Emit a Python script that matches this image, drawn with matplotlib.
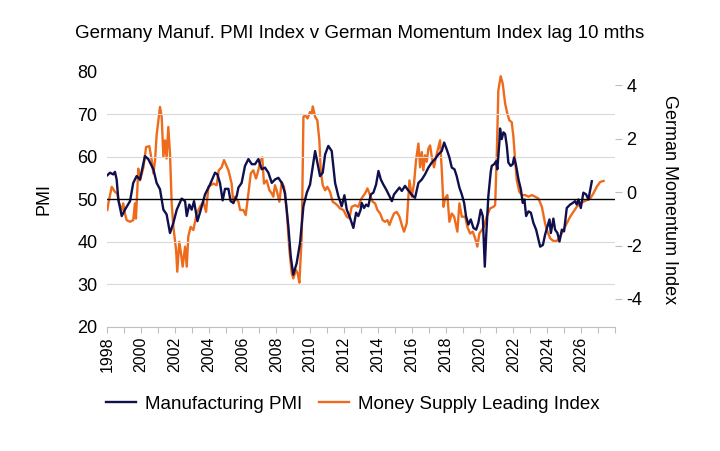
import matplotlib
matplotlib.use('Agg')
import matplotlib.pyplot as plt
import numpy as np

plt.rcParams['font.family'] = ['Liberation Sans', 'DejaVu Sans']
plt.rcParams['axes.unicode_minus'] = False

# Manufacturing PMI (left axis)
pmi_year = [1998.02, 1998.18, 1998.37, 1998.47, 1998.57, 1998.67, 1998.87, 1999.06, 1999.36, 1999.55,
            1999.75, 1999.95, 2000.24, 2000.44, 2000.74, 2000.93, 2001.13, 2001.33, 2001.52, 2001.72,
            2001.92, 2002.12, 2002.41, 2002.61, 2002.71, 2002.86, 2003.00, 2003.14, 2003.34, 2003.49,
            2003.79, 2004.08, 2004.38, 2004.52, 2004.67, 2004.83, 2004.97, 2005.17, 2005.30, 2005.46,
            2005.66, 2005.76, 2005.95, 2006.15, 2006.35, 2006.55, 2006.74, 2006.94, 2007.14, 2007.33,
            2007.53, 2007.73, 2007.92, 2008.12, 2008.32, 2008.51, 2008.71, 2008.85, 2009.00, 2009.20,
            2009.40, 2009.60, 2009.80, 2009.99, 2010.29, 2010.42, 2010.58, 2010.74, 2010.88, 2011.07,
            2011.27, 2011.47, 2011.66, 2011.86, 2012.02, 2012.16, 2012.35, 2012.55, 2012.71, 2012.84,
            2012.98, 2013.04, 2013.18, 2013.30, 2013.43, 2013.58, 2013.73, 2013.89, 2014.03, 2014.17,
            2014.32, 2014.48, 2014.68, 2014.82, 2014.95, 2015.11, 2015.27, 2015.41, 2015.60, 2015.74,
            2015.90, 2016.06, 2016.19, 2016.39, 2016.59, 2016.78, 2016.98, 2017.18, 2017.37, 2017.57,
            2017.77, 2017.91, 2018.06, 2018.22, 2018.36, 2018.52, 2018.65, 2018.81, 2018.95, 2019.09,
            2019.20, 2019.34, 2019.48, 2019.64, 2019.80, 2019.93, 2020.07, 2020.19, 2020.31, 2020.39,
            2020.52, 2020.66, 2020.72, 2020.86, 2020.98, 2021.05, 2021.17, 2021.21, 2021.31, 2021.41,
            2021.51, 2021.61, 2021.70, 2021.84, 2021.96, 2022.04, 2022.16, 2022.30, 2022.44, 2022.55,
            2022.65, 2022.75, 2022.89, 2023.03, 2023.18, 2023.34, 2023.48, 2023.58, 2023.74, 2023.87,
            2024.01, 2024.13, 2024.21, 2024.36, 2024.46, 2024.60, 2024.72, 2024.86, 2024.99, 2025.15,
            2025.35, 2025.51, 2025.64, 2025.74, 2025.84, 2025.98, 2026.13, 2026.29, 2026.43, 2026.63]
pmi_value = [55.7, 56.3, 55.9, 56.5, 54.7, 50.0, 46.1, 47.6, 49.6, 53.9,
             55.5, 54.7, 60.2, 59.5, 57.1, 53.9, 52.4, 47.6, 46.5, 42.1,
             44.5, 47.6, 50.2, 49.6, 46.1, 48.8, 47.6, 49.6, 44.9, 46.9,
             51.2, 53.5, 56.3, 55.9, 53.9, 49.8, 52.5, 52.5, 49.6, 49.2,
             50.8, 52.8, 53.9, 57.9, 59.5, 58.3, 58.3, 59.5, 57.1, 57.5,
             56.3, 53.9, 54.7, 55.1, 53.9, 51.6, 43.7, 36.6, 32.3, 35.0,
             39.8, 48.4, 51.6, 53.5, 61.4, 58.7, 55.5, 56.3, 60.6, 62.6,
             61.4, 53.9, 50.8, 48.4, 51.0, 47.6, 45.7, 43.3, 46.9, 46.1,
             47.6, 49.2, 48.0, 48.8, 48.4, 51.2, 51.6, 53.5, 56.7, 54.7,
             53.5, 52.4, 50.8, 49.6, 51.2, 52.0, 52.8, 52.0, 53.2, 52.4,
             51.6, 50.8, 50.4, 53.9, 54.7, 55.9, 57.5, 58.7, 59.5, 60.6,
             61.4, 63.4, 61.8, 59.9, 57.5, 57.1, 55.5, 52.8, 51.2, 49.2,
             46.1, 44.1, 45.3, 43.3, 42.9, 44.5, 47.6, 46.1, 34.2, 41.3,
             50.8, 56.5, 57.9, 58.3, 59.0, 57.1, 63.4, 66.7, 64.2, 65.8,
             65.4, 62.6, 58.7, 57.9, 58.3, 59.9, 57.9, 54.7, 52.4, 49.2,
             50.0, 46.1, 47.2, 46.9, 44.5, 42.9, 40.5, 38.9, 39.3, 41.7,
             43.7, 45.3, 42.1, 45.5, 42.9, 42.1, 40.1, 42.9, 42.5, 48.0,
             48.8, 49.2, 49.6, 48.8, 50.0, 48.0, 51.6, 51.2, 50.0, 54.3]

# Money supply leading index, lagged 10 months (right axis)
msl_year = [1998.02, 1998.08, 1998.28, 1998.47, 1998.61, 1998.71, 1998.87, 1998.96, 1999.06, 1999.16,
            1999.36, 1999.55, 1999.65, 1999.71, 1999.85, 1999.95, 2000.15, 2000.31, 2000.50, 2000.64,
            2000.74, 2000.84, 2000.93, 2001.13, 2001.23, 2001.33, 2001.43, 2001.52, 2001.62, 2001.72,
            2001.82, 2001.92, 2002.08, 2002.15, 2002.27, 2002.37, 2002.47, 2002.61, 2002.71, 2002.80,
            2002.94, 2003.10, 2003.30, 2003.49, 2003.69, 2003.85, 2003.99, 2004.28, 2004.48, 2004.60,
            2004.77, 2004.91, 2005.17, 2005.36, 2005.46, 2005.56, 2005.76, 2005.86, 2006.05, 2006.19,
            2006.35, 2006.49, 2006.64, 2006.80, 2006.94, 2007.04, 2007.17, 2007.27, 2007.43, 2007.59,
            2007.73, 2007.82, 2007.92, 2008.02, 2008.18, 2008.32, 2008.45, 2008.61, 2008.77, 2008.91,
            2009.00, 2009.16, 2009.26, 2009.36, 2009.50, 2009.60, 2009.70, 2009.84, 2009.99, 2010.09,
            2010.15, 2010.29, 2010.42, 2010.54, 2010.62, 2010.74, 2010.88, 2011.01, 2011.17, 2011.33,
            2011.47, 2011.60, 2011.76, 2011.96, 2012.16, 2012.31, 2012.45, 2012.65, 2012.84, 2012.98,
            2013.10, 2013.24, 2013.38, 2013.53, 2013.69, 2013.83, 2013.97, 2014.13, 2014.28, 2014.42,
            2014.56, 2014.68, 2014.82, 2014.95, 2015.11, 2015.27, 2015.41, 2015.54, 2015.70, 2015.86,
            2016.00, 2016.13, 2016.25, 2016.39, 2016.49, 2016.59, 2016.68, 2016.78, 2016.88, 2016.98,
            2017.08, 2017.18, 2017.31, 2017.43, 2017.57, 2017.67, 2017.77, 2017.87, 2017.96, 2018.10,
            2018.22, 2018.36, 2018.50, 2018.69, 2018.81, 2018.95, 2019.15, 2019.28, 2019.44, 2019.60,
            2019.74, 2019.87, 2019.99, 2020.13, 2020.26, 2020.42, 2020.62, 2020.82, 2020.92, 2021.02,
            2021.11, 2021.25, 2021.37, 2021.51, 2021.64, 2021.76, 2021.90, 2022.00, 2022.10, 2022.20,
            2022.35, 2022.50, 2022.69, 2022.89, 2023.09, 2023.28, 2023.48, 2023.68, 2023.87, 2024.01,
            2024.17, 2024.36, 2024.56, 2024.76, 2024.95, 2025.15, 2025.35, 2025.54, 2025.74, 2025.94,
            2026.13, 2026.33, 2026.53, 2026.72, 2026.92, 2027.12, 2027.32]
msl_value = [-0.67, -0.42, 0.20, 0.01, -0.05, -0.42, -0.67, -0.42, -0.80, -1.05,
             -1.11, -1.05, -0.42, -0.99, 0.88, 0.44, 0.93, 1.69, 1.72, 1.20,
             0.70, 1.20, 2.13, 3.19, 2.82, 1.32, 1.94, 1.26, 2.44, 1.44,
             -0.42, -1.30, -2.17, -2.98, -1.86, -2.29, -2.79, -2.04, -2.79, -1.67,
             -1.30, -1.42, -0.80, -0.55, -0.36, -0.74, 0.20, 0.32, 0.26, 0.82,
             0.93, 1.20, 0.82, 0.32, -0.42, -0.17, -0.36, -0.67, -0.67, -0.86,
             -0.05, 0.70, 0.82, 0.51, 0.82, 1.14, 1.30, 0.32, 0.44, 0.07,
             -0.05, -0.17, 0.26, 0.07, -0.36, 0.38, 0.20, -0.67, -2.17, -3.04,
             -3.23, -2.92, -3.04, -3.39, -1.67, 2.82, 2.88, 2.76, 3.00, 2.94,
             3.21, 2.82, 2.69, 1.94, 0.82, 0.26, 0.07, 0.20, 0.01, -0.36,
             -0.42, -0.49, -0.61, -0.67, -0.92, -0.98, -0.55, -0.49, -0.55, -0.30,
             -0.17, -0.05, 0.14, -0.11, -0.36, -0.42, -0.67, -0.80, -1.05, -1.11,
             -1.05, -1.23, -0.99, -0.80, -0.74, -0.92, -1.23, -1.48, -1.17, 0.44,
             -0.17, 0.32, 1.20, 1.82, 0.93, 1.50, 0.82, 1.38, 1.14, 1.63,
             1.75, 1.32, 0.93, 1.32, 1.69, 1.94, 0.82, -0.55, -0.24, -0.11,
             -1.11, -0.80, -0.92, -1.48, -0.42, -0.92, -0.92, -1.30, -1.55, -1.48,
             -1.73, -2.04, -1.55, -1.42, -1.30, -0.92, -0.61, -0.55, -0.49, 1.45,
             3.81, 4.34, 4.06, 3.32, 2.94, 2.69, 2.62, 2.07, 1.20, 0.44,
             0.01, -0.11, -0.11, -0.17, -0.11, -0.17, -0.24, -0.55, -1.17, -1.48,
             -1.73, -1.83, -1.83, -1.67, -1.42, -1.17, -0.92, -0.74, -0.55, -0.42,
             -0.36, -0.30, -0.24, -0.05, 0.20, 0.38, 0.42]

year_ticks = list(range(1998, 2029))
year_labels = [str(y) if y % 2 == 0 and y < 2028 else '' for y in year_ticks]
pmi_ticks = [20, 30, 40, 50, 60, 70, 80]
mom_ticks = [-4, -2, 0, 2, 4]

navy = '#10104e'
orange = '#ef6b1c'
grey = '#bfbfbf'

fig = plt.figure(figsize=(7.2, 4.51), dpi=100)
ax = fig.add_axes([0.1486, 0.275, 0.7056, 0.5654])
ax2 = ax.twinx()

l1, = ax.plot(pmi_year, pmi_value, color=navy, lw=1.7, zorder=3)
l2, = ax2.plot(msl_year, msl_value, color=orange, lw=1.7, zorder=2)
ax.axhline(50, color='black', lw=1.0, zorder=4)

ax.set_xlim(1998, 2028)
ax.set_ylim(20, 80)
ax2.set_ylim(-5.05, 4.5)

ax.set_yticks(pmi_ticks)
ax.tick_params(axis='y', length=0, labelsize=13, pad=7)
ax.grid(axis='y', color='#d9d9d9', lw=0.8)
ax.yaxis.get_gridlines()[-1].set_visible(False)
ax.yaxis.get_gridlines()[3].set_visible(False)
ax.set_axisbelow(True)

ax.set_xticks(year_ticks)
ax.set_xticklabels(year_labels, rotation=90)
ax.tick_params(axis='x', length=4, color=grey, labelsize=11.5, pad=3)

ax2.set_yticks(mom_ticks)
ax2.tick_params(axis='y', length=5, color=grey, labelsize=13, pad=3)

for a in (ax, ax2):
    for s in ('top', 'left', 'right'):
        a.spines[s].set_visible(False)
ax.spines['bottom'].set_color(grey)
ax2.spines['bottom'].set_visible(False)

# put the PMI line over the orange one
ax.set_zorder(ax2.get_zorder() + 1)
ax.patch.set_visible(False)

ax.set_ylabel('PMI', fontsize=13, labelpad=18)
ax2.set_ylabel('German Momentum Index', fontsize=13, rotation=270, labelpad=26)

fig.text(0.5, 0.925, 'Germany Manuf. PMI Index v German Momentum Index lag 10 mths',
         ha='center', va='center', fontsize=13.5)

fig.legend([l1, l2], ['Manufacturing PMI', 'Money Supply Leading Index'],
           loc='center', bbox_to_anchor=(0.49, 0.104), ncol=2, frameon=False,
           fontsize=13.5, handlelength=1.6, columnspacing=0.9, handletextpad=0.5)

plt.savefig('out.png', dpi=100)
